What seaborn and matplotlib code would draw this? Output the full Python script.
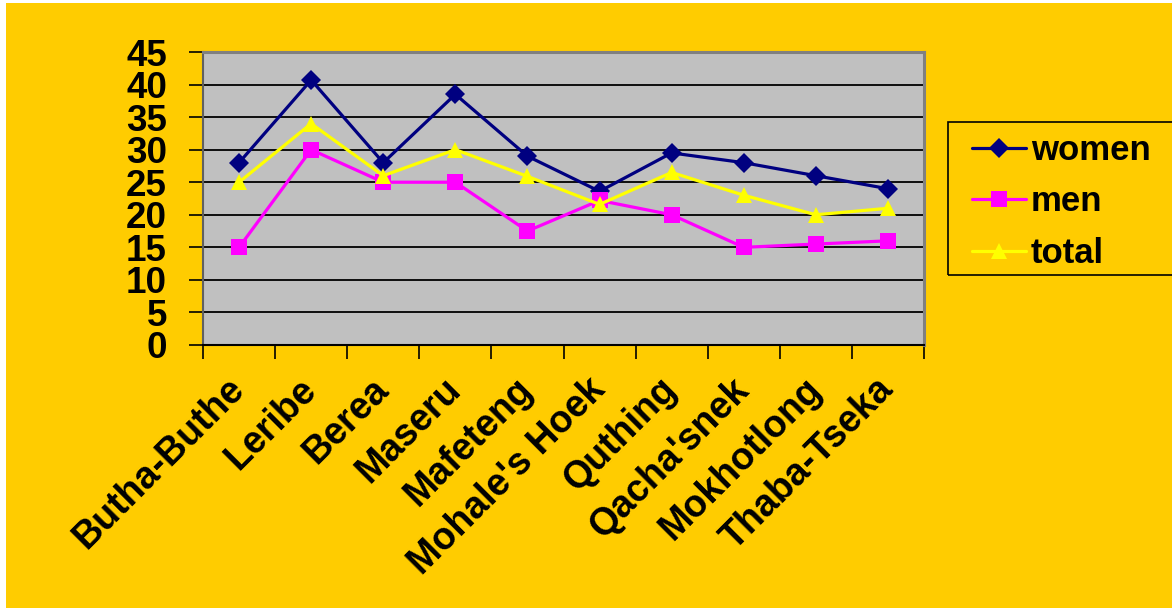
import matplotlib
matplotlib.use("Agg")
import matplotlib.pyplot as plt
import seaborn as sns
import pandas as pd
from matplotlib.patches import Rectangle
from matplotlib.ticker import FixedLocator, MultipleLocator

districts = ["Butha-Buthe", "Leribe", "Berea", "Maseru", "Mafeteng",
             "Mohale's Hoek", "Quthing", "Qacha'snek", "Mokhotlong", "Thaba-Tseka"]
women = [28, 40.7, 28, 38.5, 29, 23.6, 29.5, 28, 26, 24]
men = [15, 30, 25, 25, 17.5, 22.2, 20, 15, 15.5, 16]
total = [25, 34, 26, 30, 25.9, 21.6, 26.5, 23, 20, 21]

series_names = ["women", "men", "total"]
palette = {"women": "#000080", "men": "#FF00FF", "total": "#FFFF00"}
markers = {"women": "D", "men": "s", "total": "^"}
marker_sizes = {"women": 10, "men": 11, "total": 12}

df = pd.DataFrame({"district": districts, "women": women, "men": men, "total": total})
long_df = df.melt(id_vars="district", value_vars=series_names,
                  var_name="series", value_name="value")

sns.set_style("white")
plt.rcParams["font.family"] = ["Liberation Sans", "DejaVu Sans"]
plt.rcParams["font.weight"] = "bold"
for key in ["text.color", "axes.labelcolor", "xtick.color", "ytick.color"]:
    plt.rcParams[key] = "black"

W, H = 1172, 608
fig = plt.figure(figsize=(W / 100, H / 100), dpi=100, facecolor="white")
# chart-area background
fig.patches.append(Rectangle((6 / W, 0), 1, 1 - 3 / H, transform=fig.transFigure,
                             facecolor="#FFCC00", edgecolor="none", zorder=-10))

ax = fig.add_axes([203 / W, 1 - 345 / H, (924 - 203) / W, (345 - 52) / H])
ax.set_facecolor("#C0C0C0")

sns.lineplot(data=long_df, x="district", y="value", hue="series", style="series",
             palette=palette, markers=markers, dashes=False, linewidth=2.3,
             markersize=11, markeredgewidth=0, ax=ax, legend=False, sort=False)
for ln in ax.lines:
    m = ln.get_marker()
    for s in series_names:
        if markers[s] == m:
            ln.set_markersize(marker_sizes[s])

ax.set_xlim(-0.5, len(districts) - 0.5)
ax.set_ylim(0, 45)
ax.yaxis.set_major_locator(MultipleLocator(5))
ax.grid(axis="y", color="black", linewidth=1.3)
ax.set_axisbelow(True)

ax.set_xticks(range(len(districts)))
ax.set_xticklabels(districts, rotation=45, ha="right", va="center",
                   rotation_mode="anchor", fontsize=27, fontweight="bold")
ax.tick_params(axis="x", which="major", bottom=True, length=0, pad=28)
ax.xaxis.set_minor_locator(FixedLocator([i - 0.5 for i in range(len(districts) + 1)]))
ax.tick_params(axis="x", which="minor", bottom=True, length=10, width=1.2,
               color="black", direction="out")
ax.tick_params(axis="y", left=True, length=10, width=1.2, color="black",
               direction="out", labelsize=26.5, pad=16)
for lab in ax.get_yticklabels():
    lab.set_fontweight("bold")
ax.set_xlabel("")
ax.set_ylabel("")

for side in ["top", "right"]:
    ax.spines[side].set_color("#808080")
    ax.spines[side].set_linewidth(2.2)
ax.spines["left"].set_color("#606060")
ax.spines["left"].set_linewidth(1.5)
ax.spines["bottom"].set_color("black")
ax.spines["bottom"].set_linewidth(1.5)

# legend box, running off the right edge
fig.patches.append(Rectangle((948 / W, 1 - 275 / H), 260 / W, 153 / H,
                             transform=fig.transFigure, facecolor="none",
                             edgecolor="black", linewidth=1.2, zorder=5))
handles = [plt.Line2D([], [], color=palette[s], marker=markers[s], linewidth=2.3,
                      markersize=marker_sizes[s], markeredgewidth=0) for s in series_names]
leg = fig.legend(handles, series_names, loc="upper left",
                 bbox_to_anchor=(972 / W, 1 - 134 / H),
                 frameon=False, fontsize=25,
                 handlelength=1.55, handletextpad=0.15, labelspacing=0.53,
                 borderpad=0, borderaxespad=0)
for t in leg.get_texts():
    t.set_fontweight("bold")

fig.savefig("out.png", dpi=100, facecolor=fig.get_facecolor())
